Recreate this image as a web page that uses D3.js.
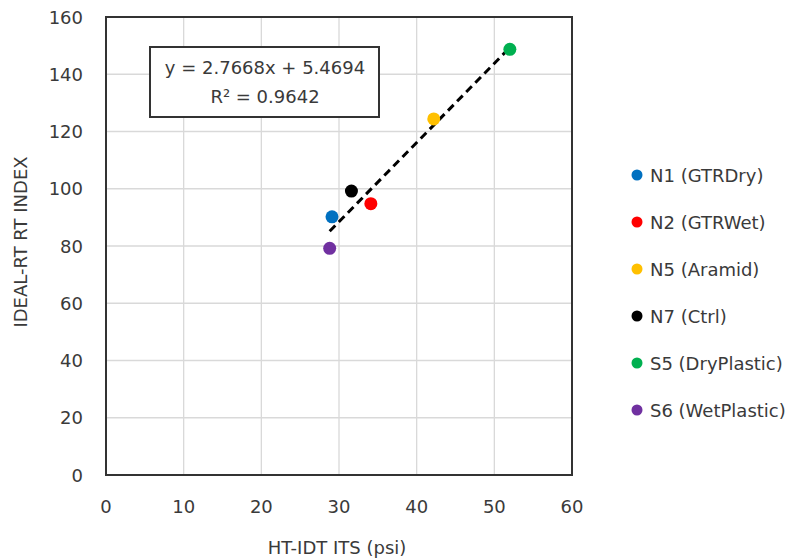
<!DOCTYPE html>
<html><head><meta charset="utf-8">
<script src="https://cdn.jsdelivr.net/npm/d3@7"></script>
<style>body{margin:0;background:#fff}svg{display:block}text{font-family:"DejaVu Sans",sans-serif;fill:#3a3a3a}</style>
</head><body>
<script>
const names = ["N1 (GTRDry)","N2 (GTRWet)","N5 (Aramid)","N7 (Ctrl)","S5 (DryPlastic)","S6 (WetPlastic)"];
const xVals = [29.1, 34.1, 42.2, 31.6, 52.0, 28.8];
const yVals = [90.2, 94.8, 124.4, 99.2, 148.7, 79.2];
const colors = ["#0070C0","#FF0000","#FFC000","#000000","#00B050","#7030A0"];
const xTicks = [0,10,20,30,40,50,60];
const yTicks = [0,20,40,60,80,100,120,140,160];
const slope = 2.7668, intercept = 5.4694;
const eqText = ["y = 2.7668x + 5.4694","R² = 0.9642"];
const xTitle = "HT-IDT ITS (psi)", yTitle = "IDEAL-RT RT INDEX";

const W=806,H=560;
const svg=d3.select("body").append("svg").attr("width",W).attr("height",H);
const x=d3.scaleLinear().domain([0,60]).range([106,572]);
const y=d3.scaleLinear().domain([0,160]).range([475,17]);

// grid
svg.append("g").selectAll("line").data(xTicks).join("line")
  .attr("x1",d=>x(d)).attr("x2",d=>x(d)).attr("y1",y(0)).attr("y2",y(160))
  .attr("stroke","#d9d9d9").attr("stroke-width",1.3);
svg.append("g").selectAll("line").data(yTicks).join("line")
  .attr("x1",x(0)).attr("x2",x(60)).attr("y1",d=>y(d)).attr("y2",d=>y(d))
  .attr("stroke","#d9d9d9").attr("stroke-width",1.3);
// frame
svg.append("rect").attr("x",x(0)).attr("y",y(160)).attr("width",x(60)-x(0)).attr("height",y(0)-y(160))
  .attr("fill","none").attr("stroke","#333").attr("stroke-width",2);

// tick labels
svg.append("g").selectAll("text").data(xTicks).join("text")
  .attr("x",d=>x(d)).attr("y",513).attr("text-anchor","middle").attr("font-size",18).text(d=>d);
svg.append("g").selectAll("text").data(yTicks).join("text")
  .attr("x",83).attr("y",d=>y(d)+6.5).attr("text-anchor","end").attr("font-size",18).text(d=>d);

// titles
svg.append("text").attr("x",337).attr("y",554).attr("text-anchor","middle").attr("font-size",18).text(xTitle);
svg.append("text").attr("transform","translate(27,242) rotate(-90)").attr("text-anchor","middle").attr("font-size",18).text(yTitle);

// trendline
const xmin=d3.min(xVals), xmax=d3.max(xVals);
svg.append("line").attr("x1",x(xmin)).attr("y1",y(slope*xmin+intercept))
  .attr("x2",x(xmax)).attr("y2",y(slope*xmax+intercept))
  .attr("stroke","#000").attr("stroke-width",3).attr("stroke-dasharray","8,5");

// points
svg.append("g").selectAll("circle").data(xVals).join("circle")
  .attr("cx",d=>x(d)).attr("cy",(d,i)=>y(yVals[i])).attr("r",6.5).attr("fill",(d,i)=>colors[i]);

// equation box
svg.append("rect").attr("x",150).attr("y",47).attr("width",229).attr("height",70)
  .attr("fill","#fff").attr("stroke","#333").attr("stroke-width",2);
svg.append("g").selectAll("text").data(eqText).join("text")
  .attr("x",265).attr("y",(d,i)=>74+i*29).attr("text-anchor","middle").attr("font-size",18).text(d=>d);

// legend
const lg=svg.append("g").selectAll("g").data(names).join("g")
  .attr("transform",(d,i)=>`translate(637,${175+i*47})`);
lg.append("circle").attr("r",5.5).attr("fill",(d,i)=>colors[i]);
lg.append("text").attr("x",13).attr("y",6.5).attr("font-size",18).text(d=>d);
</script>
</body></html>
